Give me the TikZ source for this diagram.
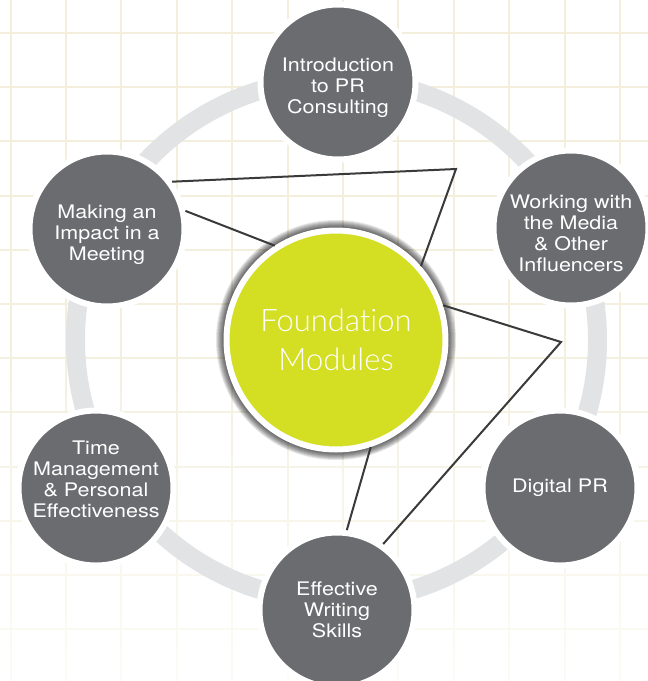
\documentclass[tikz,border=0pt]{standalone}
\usepackage{fontspec}
\setmainfont{TeX Gyre Heros}
\newfontfamily\modfont{TeX Gyre Heros}[FakeStretch=1.15]
\newfontfamily\hubfont{Lato Light}[Ligatures=NoCommon]
\usetikzlibrary{fadings}

\definecolor{modgray}{RGB}{107,108,112}
\definecolor{hubgreen}{RGB}{212,222,35}
\definecolor{ringgray}{RGB}{226,227,229}
\definecolor{linkgray}{RGB}{58,58,58}
\definecolor{gridcream}{RGB}{243,239,220}

\tikzfading[name=gridfade, top color=transparent!100, bottom color=transparent!25]

\begin{document}
\begin{tikzpicture}[x=1pt,y=-1pt,
	module/.style={circle,fill=modgray,draw=white,line width=6pt,minimum size=155pt,inner sep=0pt},
	modtext/.style={text=white,align=center,font={\modfont\fontsize{18.7}{21}\selectfont}},
	hub/.style={circle,fill=hubgreen,draw=white,line width=6pt,minimum size=219pt,inner sep=0pt,
		text=white,align=center,font={\hubfont\fontsize{31}{39.5}\selectfont}},
	link/.style={draw=linkgray,line width=2pt}]
	\useasboundingbox (0,0) rectangle (648,681);
	% squared paper, fading out downwards
	\foreach \i in {0,...,11}
		\draw[gridcream,line width=2pt] ({10.5+55.4*\i},0) -- ({10.5+55.4*\i},681);
	\foreach \j in {0,...,11}
		\draw[gridcream,line width=2pt] (0,{33+54.2*\j}) -- (648,{33+54.2*\j});
	\fill[white,path fading=gridfade] (0,300) rectangle (648,681);
	% the ring behind the modules
	\draw[ringgray,line width=19pt] (336.5,340) circle[radius=261];

	\node[module,label={[modtext,yshift=-6pt]center:Introduction\\to PR\\Consulting}] (intro) at (338,82) {};
	\node[module,label={[modtext,yshift=-5pt]center:Working with\\the Media\\\& Other\\Influencers}] (media) at (571,228) {};
	\node[module,label={[modtext]center:Digital PR}] (digital) at (560,488) {};
	\node[module,label={[modtext]center:Effective\\Writing\\Skills}] (writing) at (337,610) {};
	\node[module,label={[modtext,yshift=9pt]center:Time\\Management\\\& Personal\\Effectiveness}] (timemgmt) at (96,488) {};
	\node[module,label={[modtext,yshift=-6pt]center:Making an\\Impact in a\\Meeting}] (meeting) at (107,229) {};

	% soft shadow round the hub
	\foreach \r in {120,119,...,113}
		\fill[black,opacity=.1] (336,340) circle[radius=\r];
	\node[hub] (found) at (336,340) {Foundation\\Modules};

	\coordinate (kinkA) at (456,169);
	\coordinate (kinkB) at (561,342);
	\draw[link] (meeting.36) -- (kinkA) -- (found.41);
	\draw[link] (meeting.13) -- (found.123);
	\draw[link] (found.18) -- (kinkB) -- (writing.55);
	\draw[link] (found.-72) -- (writing.83);
\end{tikzpicture}
\end{document}
